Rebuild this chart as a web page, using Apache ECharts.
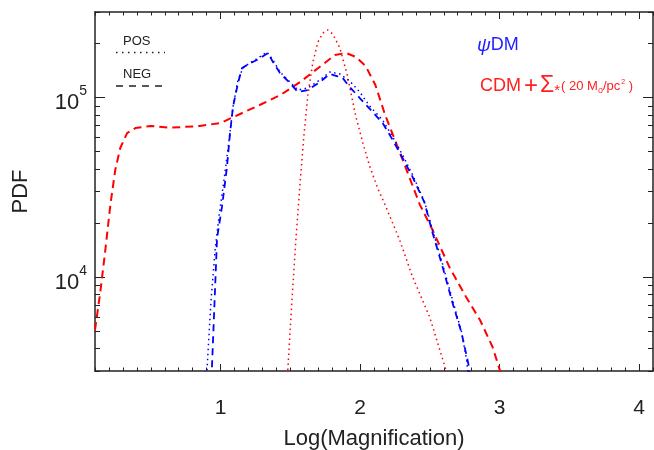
<!DOCTYPE html>
<html>
<head>
<meta charset="utf-8">
<script src="https://cdn.jsdelivr.net/npm/echarts@6/dist/echarts.min.js"></script>
<style>
  html, body { margin: 0; padding: 0; background: #fff; }
  #main { width: 654px; height: 450px; }
</style>
</head>
<body>
<div id="main"></div>
<script>
// values (x = log magnification, y = PDF)
var cdmNegX = [0.10, 0.138, 0.174, 0.21, 0.245, 0.281, 0.33, 0.39, 0.50, 0.64, 0.85, 1.00, 1.14, 1.28, 1.43, 1.57, 1.71, 1.82, 1.90, 1.97, 2.04, 2.11, 2.18, 2.25, 2.32, 2.43, 2.52, 2.64, 2.76, 2.86, 2.95, 3.01];
var cdmNegY = [5080, 8260, 14160, 25200, 39500, 52400, 63500, 67700, 69500, 68000, 69500, 72200, 81100, 91000, 103500, 122200, 148200, 172700, 177400, 168400, 150000, 117500, 80000, 58100, 42100, 25200, 18300, 11400, 7750, 5770, 4080, 2900];

var cdmPosX = [1.48, 1.512, 1.54, 1.569, 1.598, 1.626, 1.662, 1.698, 1.733, 1.769, 1.805, 1.855, 1.905, 1.969, 2.02, 2.069, 2.125, 2.183, 2.284, 2.377, 2.499, 2.63];
var cdmPosY = [2850, 7460, 16100, 32600, 61900, 103500, 157800, 204000, 229000, 238200, 226000, 189000, 137100, 79000, 56000, 41500, 31500, 24900, 16100, 10000, 6000, 2800];

var psiNegX = [0.935, 0.975, 1.01, 1.046, 1.068, 1.089, 1.125, 1.154, 1.19, 1.26, 1.34, 1.376, 1.426, 1.497, 1.555, 1.626, 1.712, 1.783, 1.833, 1.876, 1.926, 1.998, 2.09, 2.162, 2.234, 2.305, 2.377, 2.463, 2.52, 2.592, 2.663, 2.728, 2.778, 2.79];
var psiNegY = [2700, 16500, 24600, 41000, 63500, 88700, 120600, 146200, 152000, 162100, 177400, 157800, 137100, 120600, 107400, 110300, 122200, 135500, 131900, 128500, 114600, 99500, 83200, 72200, 58100, 46100, 36100, 25900, 17600, 11400, 7180, 4880, 3240, 2700];

var psiPosX = [0.897, 0.911, 0.932, 0.961, 0.99, 1.025, 1.061, 1.089, 1.125, 1.161, 1.21, 1.27, 1.333, 1.376, 1.426, 1.497, 1.555, 1.626, 1.712, 1.783, 1.855, 1.926, 1.998, 2.069, 2.162, 2.234, 2.305, 2.377, 2.463, 2.52, 2.592, 2.663, 2.728, 2.764, 2.778];
var psiPosY = [2500, 3930, 7460, 14160, 22200, 34800, 58100, 88700, 125400, 146200, 156000, 166300, 179600, 162100, 139000, 122200, 110300, 113200, 125400, 139000, 135500, 123800, 107400, 89800, 75000, 60400, 47900, 37100, 26200, 18300, 11800, 7460, 4940, 3450, 2700];

// axis ticks
var xMajor = [1, 2, 3, 4];
var yMajor = [1e4, 1e5];
var yMinor = [3000, 4000, 5000, 6000, 7000, 8000, 9000, 20000, 30000, 40000, 50000, 60000, 70000, 80000, 90000, 200000, 300000];
var xMin = 0.1, xMax = 4.1;
var yMin = 3000, yMax = 300000;

var xMinor = [];
for (var i = 1; i <= 41; i++) {
  if (i % 10 !== 0) xMinor.push(i / 10);
}

var FONT = "'Liberation Sans', Arial, Helvetica, sans-serif";
var INK = '#222';

function pairs(xs, ys) {
  return xs.map(function (x, i) { return [x, Math.log10(ys[i])]; });
}
function lg(arr) { return arr.map(function (v) { return Math.log10(v); }); }

function xAx(pos, ticks, len, main) {
  return {
    type: 'value', position: pos, min: xMin, max: xMax,
    axisLine: { show: main, onZero: false, lineStyle: { color: INK, width: 1.5 } },
    axisTick: { show: true, inside: true, length: len, customValues: ticks, lineStyle: { color: INK, width: 1 } },
    axisLabel: main && pos === 'bottom' ? {
      customValues: xMajor, margin: 27, fontSize: 21, color: INK, fontFamily: FONT
    } : { show: false },
    splitLine: { show: false },
    name: main && pos === 'bottom' ? 'Log(Magnification)' : '',
    nameLocation: 'middle', nameGap: 57,
    nameTextStyle: { fontSize: 22, color: INK, fontFamily: FONT }
  };
}

function yAx(pos, ticks, len, main) {
  var lbl = main && pos === 'left';
  return {
    type: 'value', position: pos, min: Math.log10(yMin), max: Math.log10(yMax),
    axisLine: { show: main, onZero: false, lineStyle: { color: INK, width: 1.5 } },
    axisTick: { show: true, inside: true, length: len, customValues: lg(ticks), lineStyle: { color: INK, width: 1 } },
    axisLabel: lbl ? {
      customValues: lg(yMajor), margin: 8, color: INK,
      formatter: function (v) { return '{b|10}{s|' + Math.round(v) + '}'; },
      rich: {
        b: { fontSize: 22, fontFamily: FONT, color: INK, padding: [11, 0, 0, 0] },
        s: { fontSize: 14, fontFamily: FONT, color: INK, verticalAlign: 'top', padding: [3, 0, 0, 0] }
      }
    } : { show: false },
    splitLine: { show: false },
    name: lbl ? 'PDF' : '',
    nameLocation: 'middle', nameGap: 63,
    nameTextStyle: { fontSize: 22, color: INK, fontFamily: FONT }
  };
}

function line(name, xs, ys, color, width, dash, z) {
  return {
    name: name, type: 'line', data: pairs(xs, ys),
    symbol: 'none', smooth: false, clip: true, animation: false, z: z,
    lineStyle: { color: color, width: width, type: dash }
  };
}

var chart = echarts.init(document.getElementById('main'), null, { renderer: 'canvas' });

var option = {
  backgroundColor: '#fff',
  animation: false,
  grid: { left: 95, right: 1, top: 12, bottom: 79, containLabel: false, outerBoundsMode: 'none' },
  xAxis: [
    xAx('bottom', xMajor, 7, true),
    xAx('bottom', xMinor, 3.5, false),
    xAx('top', xMajor, 7, true),
    xAx('top', xMinor, 3.5, false)
  ],
  yAxis: [
    yAx('left', yMajor, 10, true),
    yAx('left', yMinor, 5, false),
    yAx('right', yMajor, 10, true),
    yAx('right', yMinor, 5, false)
  ],
  series: [
    line('CDM NEG', cdmNegX, cdmNegY, '#ff0000', 2, [8, 5], 3),
    line('CDM POS', cdmPosX, cdmPosY, '#ff0000', 1.5, [1.5, 3.5], 3),
    line('psi NEG', psiNegX, psiNegY, '#0000ff', 1.8, [7, 5], 4),
    line('psi POS', psiPosX, psiPosY, '#0000ff', 1.5, [1.5, 3.5], 4)
  ],
  graphic: [
    { type: 'text', left: 123, top: 35, style: { text: 'POS', fontSize: 13, fontFamily: FONT, fill: INK } },
    { type: 'line', shape: { x1: 116, y1: 52.5, x2: 165, y2: 52.5 }, style: { stroke: INK, lineWidth: 1.5, lineDash: [1.5, 4.5] } },
    { type: 'text', left: 123, top: 68, style: { text: 'NEG', fontSize: 13, fontFamily: FONT, fill: INK } },
    { type: 'line', shape: { x1: 116, y1: 86, x2: 165, y2: 86 }, style: { stroke: INK, lineWidth: 1.5, lineDash: [7, 6] } },
    {
      type: 'text', left: 477, top: 36,
      style: {
        text: '{g|ψ}{t|DM}',
        rich: {
          g: { fontSize: 19, fontFamily: FONT, fontStyle: 'italic', fill: '#1f1fff' },
          t: { fontSize: 18, fontFamily: FONT, fill: '#1f1fff' }
        }
      }
    },
    {
      type: 'text', left: 480, top: 74,
      style: {
        text: '{a|CDM}{p|+}{s|Σ}{u|*}{m|( 20 M}{o|o}{m|/pc}{q|2}{m| )}',
        rich: {
          a: { fontSize: 18, fontFamily: FONT, fill: '#ff2020', lineHeight: 24 },
          p: { fontSize: 24, fontFamily: FONT, fill: '#ff2020', padding: [0, 2, 0, 3] },
          s: { fontSize: 23, fontFamily: FONT, fill: '#ff2020' },
          u: { fontSize: 15, fontFamily: FONT, fill: '#ff2020', verticalAlign: 'bottom', padding: [0, 1, 0, 0] },
          m: { fontSize: 13, fontFamily: FONT, fill: '#ff2020' },
          o: { fontSize: 9, fontFamily: FONT, fill: '#ff2020', verticalAlign: 'bottom', padding: [0, 0, 3, 0] },
          q: { fontSize: 7, fontFamily: FONT, fill: '#ff2020', verticalAlign: 'top', padding: [5, 0, 0, 1] }
        }
      }
    }
  ]
};

chart.setOption(option);
</script>
</body>
</html>
